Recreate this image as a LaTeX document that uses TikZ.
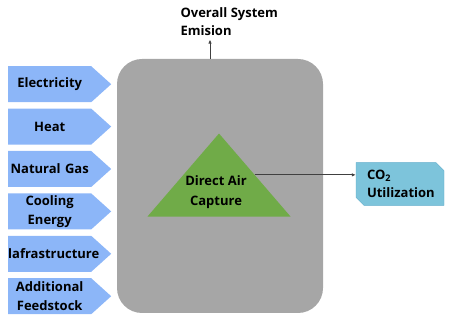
\documentclass[tikz,border=0pt]{standalone}
\usepackage{fontspec}
\setmainfont{Open Sans}
\usetikzlibrary{shapes.geometric, shapes.symbols, shapes.misc, arrows.meta, positioning}

\definecolor{inblue}{RGB}{140,182,248}
\definecolor{boxgray}{RGB}{166,166,166}
\definecolor{dacgreen}{RGB}{112,171,72}
\definecolor{outblue}{RGB}{125,196,219}
\definecolor{outedge}{RGB}{95,172,202}

\begin{document}
\begin{tikzpicture}[
    x=1pt, y=-1pt,
    >={Latex[length=4pt,width=3.5pt]},
    lbl/.style={font=\bfseries\fontsize{13}{18.5}\selectfont, text=black},
    innode/.style={lbl, signal, signal to=east, signal pointer angle=84,
        fill=inblue, text width=83pt, inner xsep=0pt, inner ysep=0pt,
        minimum height=36pt, align=center},
    plantbox/.style={rectangle, rounded corners=25pt, fill=boxgray,
        minimum width=206pt, minimum height=254pt},
    dactri/.style={isosceles triangle, isosceles triangle stretches,
        shape border rotate=90, fill=dacgreen, inner sep=0pt,
        minimum width=143pt, minimum height=83pt},
    outnode/.style={lbl, chamfered rectangle,
        chamfered rectangle corners={north east, south west},
        chamfered rectangle xsep=4pt, chamfered rectangle ysep=4pt,
        fill=outblue, draw=outedge, thin, text width=66pt, align=left,
        inner xsep=7pt, minimum height=40pt},
    flow/.style={->, draw=black!75, line width=0.8pt}
]
\useasboundingbox (0,0) rectangle (453,323);

% Inputs
\node[innode, anchor=north west] (elec) at (8,66) {Electricity};
\node[innode, below=6pt of elec] (heat) {Heat};
\node[innode, below=6pt of heat] (gas) {Natural Gas};
\node[innode, below=6pt of gas] (cool) {Cooling\\Energy};
\node[innode, below=6pt of cool] (infra) {lafrastructure};
\node[innode, below=6pt of infra] (feed) {Additional\\Feedstock};

% Plant
\node[plantbox] (plant) at (220,186) {};
\node[dactri, anchor=apex] (dac) at (219,133) {};
\node[lbl, align=center, font=\bfseries\fontsize{13}{20}\selectfont]
    (dactxt) at (216,192) {Direct Air\\Capture};

% Outputs
\node[outnode] (co2) at (400,184) {CO\textsubscript{2}\\Utilization};
\node[lbl, align=left, anchor=north west] (emis) at (177,4) {Overall System\\Emision};

% Flows
\draw[flow] (dac.right side) -- (dac.right side -| co2.west);
\draw[flow] ([xshift=-10pt]plant.north) -- ([xshift=-10pt]plant.north |- emis.south);

\end{tikzpicture}
\end{document}
